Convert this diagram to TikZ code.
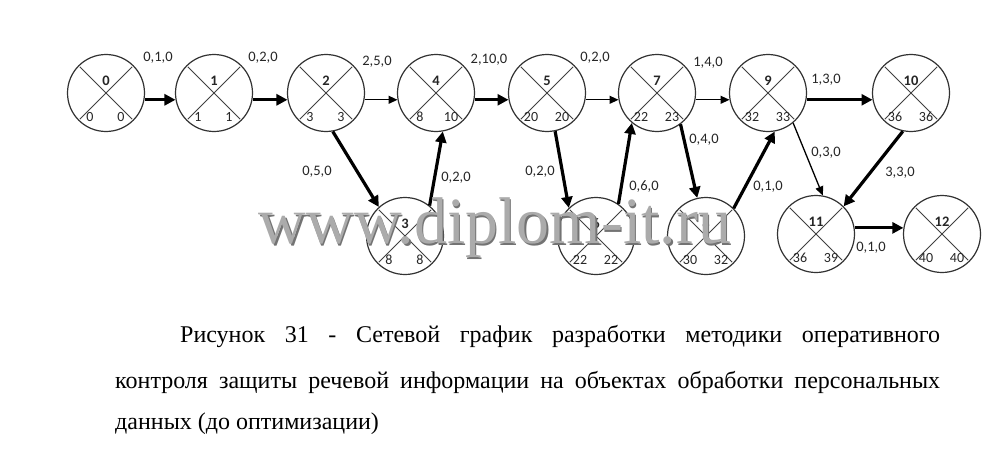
\documentclass[tikz,border=0pt]{standalone}
\usepackage{fontspec}
\setmainfont{Liberation Serif}
\newfontfamily\diagfont{Carlito}
\usetikzlibrary{arrows.meta}
\tikzset{
  ev/.style={circle, draw=black!80, line width=1.2pt, minimum size=77pt, inner sep=0pt},
  crossline/.style={draw=black!75, line width=1pt, shorten <=2pt, shorten >=2pt},
  idlbl/.style={font=\diagfont\fontsize{14.5}{14.5}\selectfont\bfseries, text=black!85, inner sep=0pt},
  vallbl/.style={font=\diagfont\fontsize{14}{14}\selectfont, text=black!85, inner sep=0pt},
  elbl/.style={font=\diagfont\fontsize{14.5}{14.5}\selectfont, text=black!85, inner sep=0pt},
  crit/.style={draw=black, line width=3.2pt, -{Triangle[length=11pt,width=11pt]}},
  norm/.style={draw=black, line width=1.3pt, -{Triangle[length=9pt,width=8pt]}},
  caption/.style={font=\fontsize{24}{24}\selectfont, inner sep=0pt, anchor=base west},
  wmark/.style={font=\fontsize{66}{66}\selectfont, inner sep=0pt}
}
\begin{document}
\begin{tikzpicture}[x=1pt,y=-1pt]
\useasboundingbox[fill=white] (0,0) rectangle (995,460);
\foreach \id/\x/\y/\el/\lt in {0/106/93/0/0, 1/214/93/1/1, 2/326/93/3/3, 4/436/93/8/10,
  5/547/93/20/20, 7/657/93/22/23, 9/768/93/32/33, 10/911/93/36/36,
  3/405/236/8/8, 6/596/236/22/22, 8/706/236/30/32, 11/816/234/36/39, 12/942/234/40/40} {
  \node[ev] (n\id) at (\x,\y) {};
  \draw[crossline] (n\id.north west) -- (n\id.south east);
  \draw[crossline] (n\id.north east) -- (n\id.south west);
  \node[idlbl] (n\id t) at ([yshift=12pt]n\id.center) {\id};
  \node[vallbl] (n\id l) at ([xshift=-16pt,yshift=-24pt]n\id.center) {\el};
  \node[vallbl] (n\id r) at ([xshift=15pt,yshift=-24pt]n\id.center) {\lt};
}
% horizontal connectors
\draw[crit] (n0.-10) -- (n1.190);
\draw[crit] (n1.-10) -- (n2.190);
\draw[norm] (n2.-10) -- (n4.190);
\draw[crit] (n4.-10) -- (n5.190);
\draw[norm] (n5.-10) -- (n7.190);
\draw[norm] (n7.-10) -- (n9.190);
\draw[crit] (n9.-10) -- (n10.190);
\draw[crit] (n11.9) -- (n12.171);
% diagonal connectors
\draw[crit] (n2.-80) -- (n3.132);
\draw[crit] (n3.51) -- (n4.-80);
\draw[crit] (n5.-78) -- (n6.134);
\draw[crit] (n6.55) -- (n7.-130);
\draw[crit] (n7.-53) -- (n8.103);
\draw[crit] (n8.45) -- (n9.-80);
\draw[norm] (n9.-50) -- (n11.80);
\draw[crit] (n10.-102) -- (n11.45);
% edge labels
\node[elbl] (e01) at (158,58) {0,1,0};
\node[elbl] (e12) at (263,58) {0,2,0};
\node[elbl] (e24) at (377,62) {2,5,0};
\node[elbl] (e45) at (489,60) {2,10,0};
\node[elbl] (e57) at (595,58) {0,2,0};
\node[elbl] (e79) at (708,63) {1,4,0};
\node[elbl] (e910) at (826,80) {1,3,0};
\node[elbl] (e23) at (317,172) {0,5,0};
\node[elbl] (e34) at (456,178) {0,2,0};
\node[elbl] (e56) at (540,172) {0,2,0};
\node[elbl] (e67) at (644,187) {0,6,0};
\node[elbl] (e78) at (704,140) {0,4,0};
\node[elbl] (e89) at (768,187) {0,1,0};
\node[elbl] (e911) at (826,153) {0,3,0};
\node[elbl] (e1011) at (900,173) {3,3,0};
\node[elbl] (e1112) at (871,248) {0,1,0};
% watermark
\node[wmark, text=black!55] (wmsh) at (496.5,229.5) {www.diplom-it.ru};
\node[wmark, text=black!33] (wm) at (495,228) {www.diplom-it.ru};
% caption
\node[caption] (c1) at (180,342) {\makebox[760pt][s]{Рисунок 31 - Сетевой график разработки методики оперативного}};
\node[caption] (c2) at (115,388) {\makebox[825pt][s]{контроля защиты речевой информации на объектах обработки персональных}};
\node[caption] (c3) at (115,429) {данных (до оптимизации)};
\end{tikzpicture}
\end{document}
